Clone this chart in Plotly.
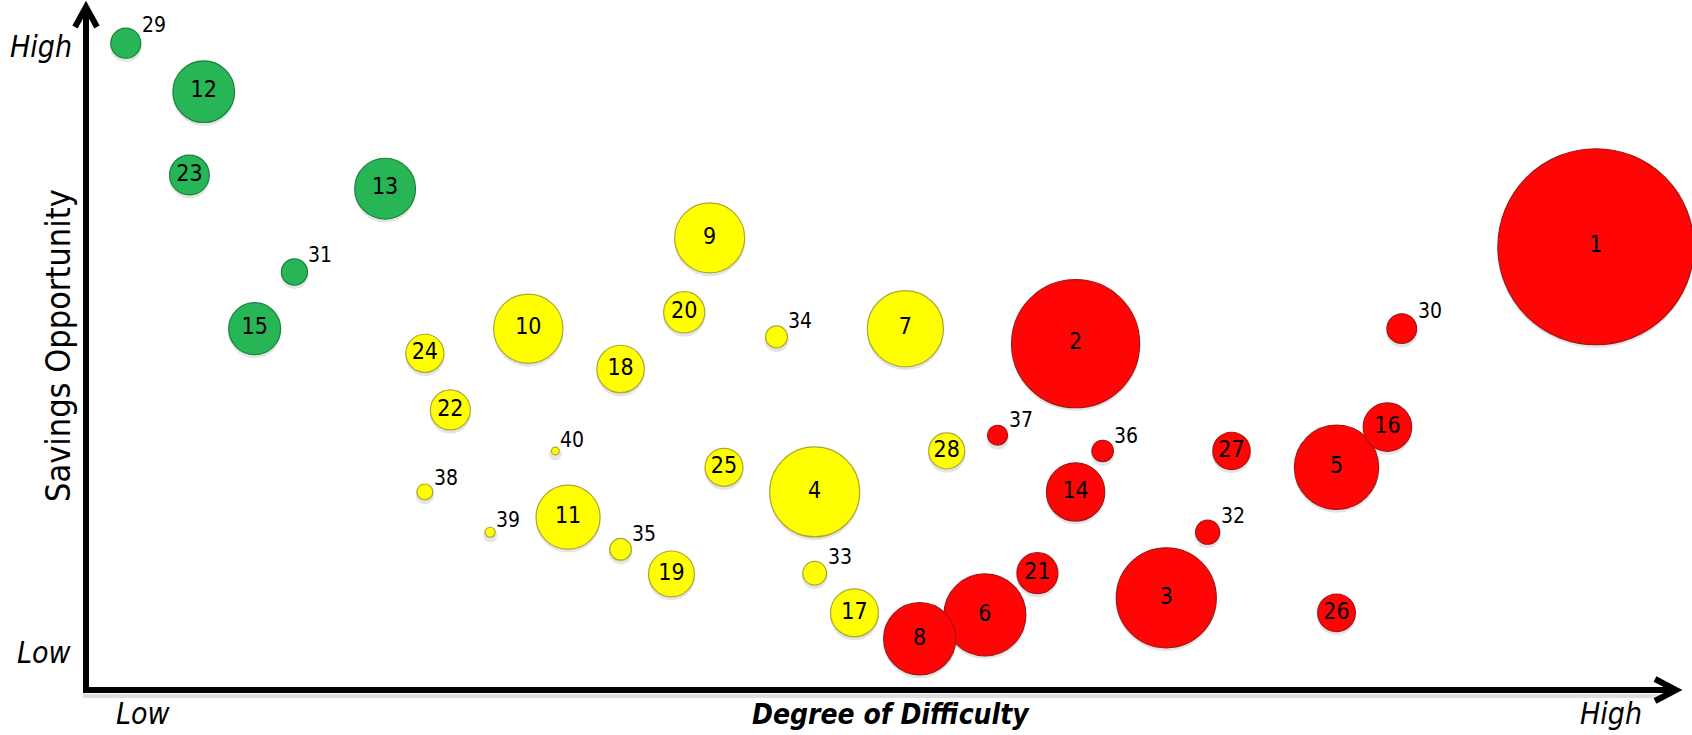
import plotly.graph_objects as go

# ---- opportunity data -------------------------------------------------------
ids = list(range(1, 41))
difficulty = [94.9, 62.2, 67.9, 45.8, 78.6, 56.5, 51.5, 52.4, 39.2, 27.8,
              30.3, 7.4, 18.8, 62.2, 10.6, 81.8, 48.3, 33.6, 36.8, 37.6,
              59.8, 22.9, 6.5, 21.3, 40.1, 78.6, 72.0, 54.1, 2.5, 82.7,
              13.1, 70.5, 45.8, 43.4, 33.6, 63.9, 57.3, 21.3, 25.4, 29.5]
savings = [64.9, 50.7, 13.5, 29.0, 32.6, 11.0, 52.9, 7.5, 66.2, 52.9,
           25.3, 87.6, 73.4, 29.0, 52.9, 38.5, 11.3, 47.0, 17.0, 55.3,
           17.1, 41.0, 75.4, 49.3, 32.6, 11.3, 35.0, 35.0, 94.7, 52.9,
           61.2, 23.1, 17.1, 51.7, 20.6, 35.0, 37.3, 29.0, 23.1, 35.0]
impact = [384, 164, 100, 81, 71, 67, 58, 52, 49, 48,
          41, 38, 37, 34, 27, 23.5, 23, 22.5, 21, 17,
          16.8, 16, 15.8, 14.5, 14.4, 14.2, 14, 13, 9, 8.8,
          6.8, 5.8, 5.6, 4.8, 4.7, 4.6, 4.0, 2.5, 1.0, 0.6]
tier = ["red", "red", "red", "yellow", "red", "red", "yellow", "red", "yellow", "yellow",
        "yellow", "green", "green", "red", "green", "red", "yellow", "yellow", "yellow", "yellow",
        "red", "yellow", "green", "yellow", "yellow", "red", "red", "yellow", "green", "red",
        "green", "red", "yellow", "yellow", "yellow", "red", "red", "yellow", "yellow", "yellow"]

# ---- styling ----------------------------------------------------------------
W, H = 1692, 735
ORIGIN_X, ORIGIN_Y = 86, 690          # pixel position of the axis corner
PX_X, PX_Y = 15.91, 6.83              # pixels per axis unit
SIZEREF = 0.02                        # area-mode bubble scaling
FILL = {"green": "#27B555", "yellow": "#FFFF00", "red": "#FF0505"}
RIM = {"green": "#16813C", "yellow": "#ABA82E", "red": "#A81414"}
FONT = "Liberation Sans Narrow, Arial Narrow, DejaVu Sans Condensed, sans-serif"
INSIDE_MIN = 13                       # bubbles this big carry their label inside


def ux(px):
    return (px - ORIGIN_X) / PX_X


def uy(py):
    return (ORIGIN_Y - py) / PX_Y


def radius(v):
    return 0.5 * (2 * v / SIZEREF) ** 0.5


fig = go.Figure()

# soft drop shadow under each bubble
fig.add_trace(go.Scatter(
    x=difficulty,
    y=[s - 3 / PX_Y for s in savings],
    mode="markers",
    marker=dict(size=[v + 1.0 for v in impact], sizemode="area", sizeref=SIZEREF,
                color="rgba(0,0,0,0.15)", line=dict(width=0)),
    hoverinfo="skip", showlegend=False,
))

# bubbles
fig.add_trace(go.Scatter(
    x=difficulty, y=savings,
    mode="markers+text",
    marker=dict(size=impact, sizemode="area", sizeref=SIZEREF,
                color=[FILL[t] for t in tier],
                line=dict(color=[RIM[t] for t in tier], width=1.2),
                opacity=1),
    text=[str(i) if v >= INSIDE_MIN else "" for i, v in zip(ids, impact)],
    textposition="middle center",
    textfont=dict(family=FONT, size=23, color="black"),
    hovertemplate="#%{text}<br>Difficulty %{x}<br>Savings %{y}<extra></extra>",
    showlegend=False,
))

annotations = []
# labels beside the small bubbles
for i, x, y, v in zip(ids, difficulty, savings, impact):
    if v < INSIDE_MIN:
        r = radius(v)
        annotations.append(dict(
            x=x, y=y, text=str(i), showarrow=False,
            xanchor="left", yanchor="middle",
            xshift=r - 1, yshift=0.6 * r + 9,
            font=dict(family=FONT, size=21, color="black"),
        ))

# axis end labels and titles
end_font = dict(family=FONT, size=30, color="black")
annotations += [
    dict(x=ux(74), y=uy(46), text="<i>High</i>", xanchor="right", yanchor="middle",
         showarrow=False, font=end_font),
    dict(x=ux(74), y=uy(652), text="<i>Low</i>", xanchor="right", yanchor="middle",
         showarrow=False, font=end_font),
    dict(x=ux(143), y=uy(713), text="<i>Low</i>", xanchor="center", yanchor="middle",
         showarrow=False, font=end_font),
    dict(x=ux(1611), y=uy(713), text="<i>High</i>", xanchor="center", yanchor="middle",
         showarrow=False, font=end_font),
    dict(x=ux(891), y=uy(714), text="<b><i>Degree of Difficulty</i></b>",
         xanchor="center", yanchor="middle", showarrow=False,
         font=dict(family=FONT, size=28, color="black")),
    dict(x=ux(58), y=uy(346), text="Savings Opportunity", textangle=-90,
         xanchor="center", yanchor="middle", showarrow=False,
         font=dict(family=FONT, size=34, color="black")),
]

# axes drawn as thick arrows
axis_line = dict(color="black", width=6)
shapes = [
    dict(type="line", xref="x", yref="y", x0=ux(83), y0=uy(696), x1=ux(1660), y1=uy(696),
         line=dict(color="rgba(0,0,0,0.13)", width=4), layer="below"),
    dict(type="line", xref="x", yref="y", x0=ux(ORIGIN_X), y0=uy(693), x1=ux(ORIGIN_X), y1=uy(10),
         line=axis_line),
    dict(type="line", xref="x", yref="y", x0=ux(83), y0=uy(ORIGIN_Y), x1=ux(1672), y1=uy(ORIGIN_Y),
         line=axis_line),
    dict(type="path", xref="x", yref="y",
         path=f"M {ux(75)},{uy(27)} L {ux(86)},{uy(7)} L {ux(97)},{uy(27)}",
         line=dict(color="black", width=6)),
    dict(type="path", xref="x", yref="y",
         path=f"M {ux(1655)},{uy(679)} L {ux(1676)},{uy(690)} L {ux(1655)},{uy(701)}",
         line=dict(color="black", width=6)),
]

fig.update_layout(
    width=W, height=H,
    margin=dict(l=0, r=0, t=0, b=0),
    paper_bgcolor="white", plot_bgcolor="white",
    xaxis=dict(range=[ux(0), ux(W)], visible=False, fixedrange=True),
    yaxis=dict(range=[uy(H), uy(0)], visible=False, fixedrange=True),
    annotations=annotations,
    shapes=shapes,
)

fig.write_html("out.html")
